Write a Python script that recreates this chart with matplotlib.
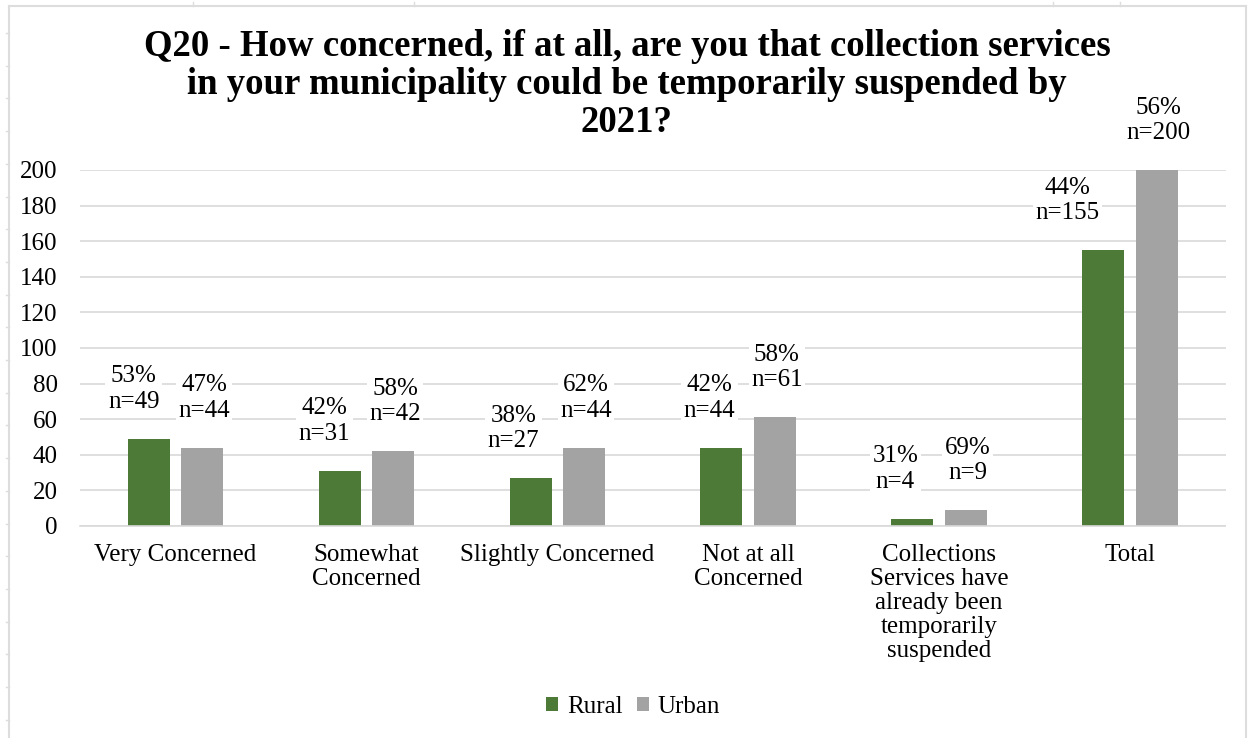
import matplotlib
matplotlib.use("Agg")
import matplotlib.pyplot as plt
from matplotlib.lines import Line2D
import numpy as np

plt.rcParams['font.family'] = ['Liberation Serif', 'DejaVu Serif']

# Survey responses by area type
categories = [
    "Very Concerned",
    "Somewhat\nConcerned",
    "Slightly Concerned",
    "Not at all\nConcerned",
    "Collections\nServices have\nalready been\ntemporarily\nsuspended",
    "Total",
]
rural_n = [49, 31, 27, 44, 4, 155]
urban_n = [44, 42, 44, 61, 9, 200]
rural_pct = [53, 42, 38, 42, 31, 44]
urban_pct = [47, 58, 62, 58, 69, 56]
yticks = [0, 20, 40, 60, 80, 100, 120, 140, 160, 180, 200]

title = ("Q20 - How concerned, if at all, are you that collection services\n"
         "in your municipality could be temporarily suspended by\n2021?")

GREEN = "#4D7A36"
GREY = "#A3A3A3"
GRID = "#D9D9D9"
FRAME = "#DDDDDD"
FS = 18

W, H = 1248, 738
fig = plt.figure(figsize=(W / 100, H / 100), dpi=100)

# sheet-style outer frame with cell-boundary nubs
def fx(px):
    return px / W

def fy(py):
    return 1 - py / H

fig.add_artist(Line2D([fx(9), fx(9)], [fy(6), 0], color=FRAME, lw=1.5))
fig.add_artist(Line2D([fx(9), fx(1246)], [fy(6), fy(6)], color=FRAME, lw=1.5))
fig.add_artist(Line2D([fx(1246), fx(1246)], [fy(6), 0], color=FRAME, lw=1.5))
for py in np.arange(33, H, 32.7):
    fig.add_artist(Line2D([fx(6), fx(9)], [fy(py), fy(py)], color=FRAME, lw=1))
for px in [193, 414, 1053, 1120]:
    fig.add_artist(Line2D([fx(px), fx(px)], [fy(2), fy(6)], color=FRAME, lw=1))

ax = fig.add_axes([fx(80), fy(526), fx(1225.5) - fx(80), fy(170) - fy(526)])

x = np.arange(len(categories))
bw = 0.22
off = 0.14
bars_r = ax.bar(x - off, rural_n, bw, color=GREEN, label="Rural", zorder=2)
bars_u = ax.bar(x + off, urban_n, bw, color=GREY, label="Urban", zorder=2)

ax.set_xlim(-0.5, len(categories) - 0.5)
ax.set_ylim(0, 200)
ax.set_yticks(yticks)
ax.yaxis.grid(True, color=GRID, lw=1.2, zorder=0)
ax.set_axisbelow(True)
for s in ax.spines.values():
    s.set_visible(False)
ax.spines['bottom'].set_visible(True)
ax.spines['bottom'].set_color(GRID)
ax.spines['bottom'].set_linewidth(1.2)
ax.tick_params(axis='both', length=0, labelsize=FS)
ax.tick_params(axis='y', pad=16)
ax.tick_params(axis='x', pad=13)
ax.set_xticks(x)
ax.set_xticklabels(categories, linespacing=1.12)

rural_dx = [-15, -15, -17, -12, -17, -36]
for i in range(len(categories)):
    ax.annotate(f"{rural_pct[i]}%\nn={rural_n[i]}", (x[i] - off, rural_n[i]),
                xytext=(rural_dx[i], 26), textcoords='offset pixels',
                ha='center', va='bottom', fontsize=FS, linespacing=1.2,
                bbox=dict(boxstyle='square,pad=0.1', fc='white', ec='none'),
                zorder=3)
    ax.annotate(f"{urban_pct[i]}%\nn={urban_n[i]}", (x[i] + off, urban_n[i]),
                xytext=(2, 26), textcoords='offset pixels',
                ha='center', va='bottom', fontsize=FS, linespacing=1.2,
                bbox=dict(boxstyle='square,pad=0.1', fc='white', ec='none'),
                zorder=3)

fig.text(fx(627), fy(29), title, ha='center', va='top', fontsize=26.5,
         fontweight='bold', linespacing=1.11)

fig.legend(handles=[bars_r, bars_u], loc='center', bbox_to_anchor=(fx(633), fy(707)),
           ncol=2, frameon=False, fontsize=FS, handlelength=0.5, handleheight=0.5,
           handletextpad=0.35, columnspacing=0.55)

fig.savefig("out.png", dpi=100, facecolor='white')
